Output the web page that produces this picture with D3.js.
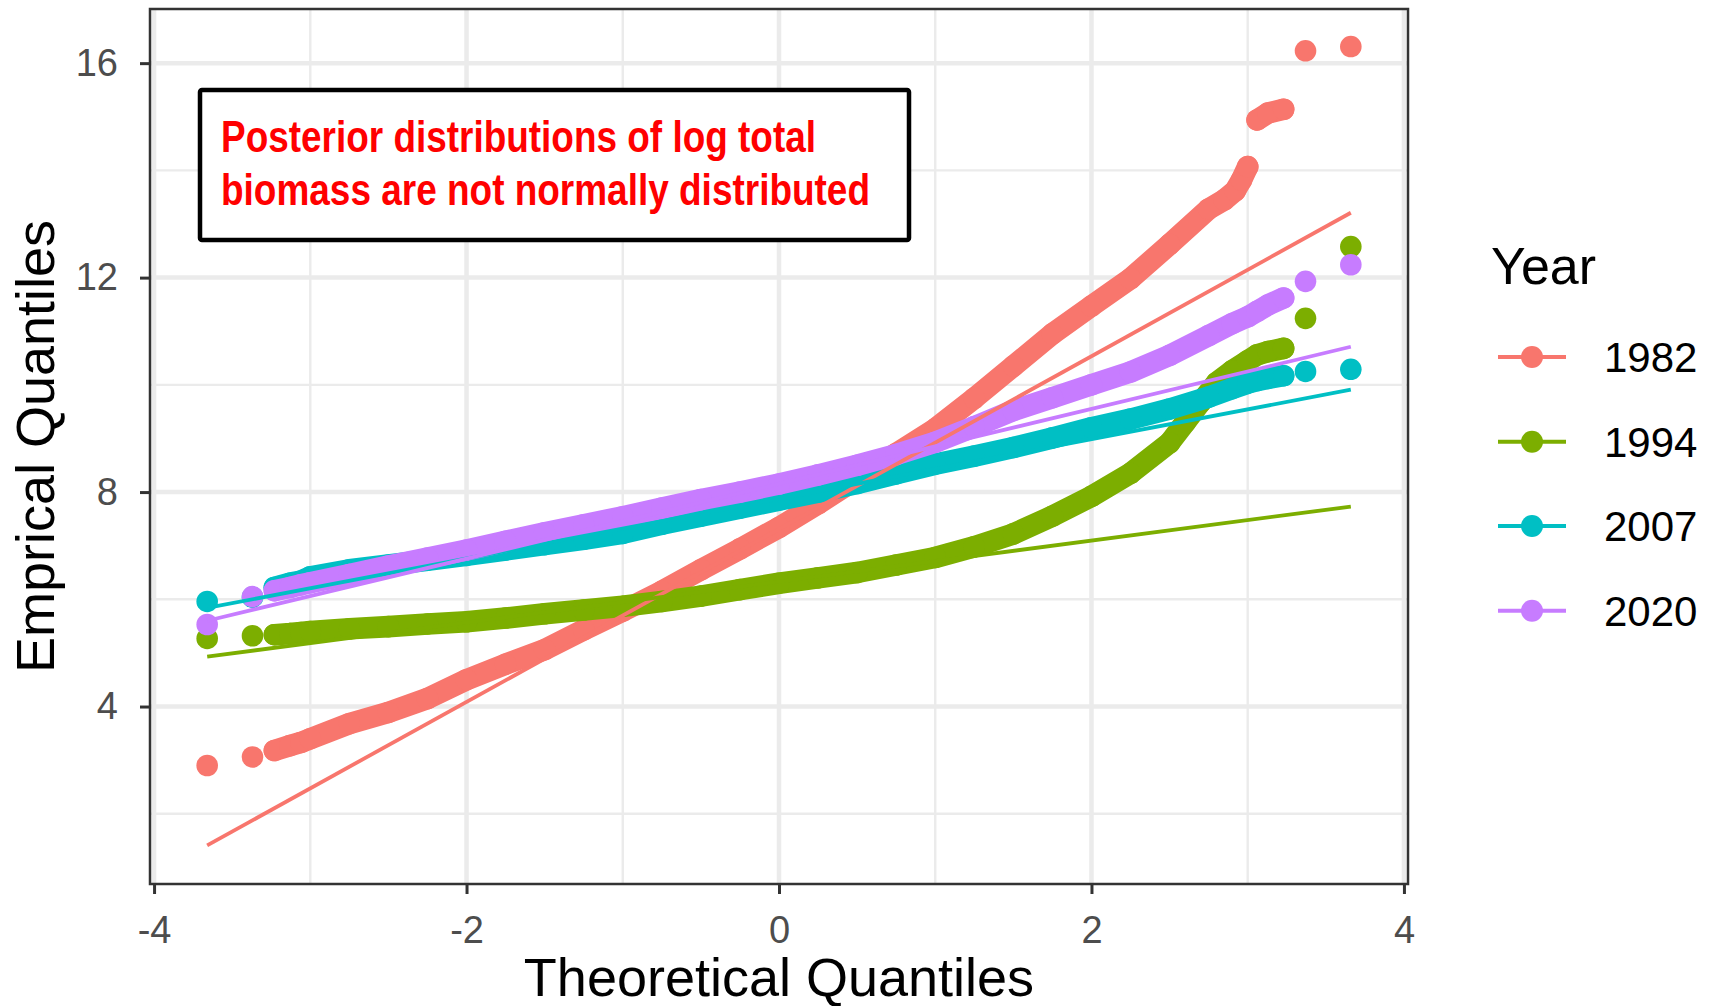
<!DOCTYPE html>
<html>
<head>
<meta charset="utf-8">
<script src="https://cdn.jsdelivr.net/npm/d3@7"></script>
<style>
  body { margin: 0; background: #fff; }
  text { font-family: "Liberation Sans", Arial, sans-serif; }
</style>
</head>
<body>
<script>
const years = ['1982', '1994', '2007', '2020'];
const colors = ['#F8766D', '#7CAE00', '#00BFC4', '#C77CFF'];

const q1982 = [[-3.66,2.90],[-3.37,3.06],[-3.23,3.18],[-3.13,3.27],[-3.06,3.33],[-3.0,3.40],[-2.75,3.68],[-2.5,3.89],[-2.25,4.15],[-2.0,4.50],[-1.75,4.79],[-1.5,5.06],[-1.25,5.43],[-1.0,5.78],[-0.75,6.15],[-0.5,6.55],[-0.25,6.94],[0,7.34],[0.25,7.78],[0.5,8.25],[0.75,8.72],[1.0,9.18],[1.25,9.75],[1.5,10.35],[1.75,10.95],[2.0,11.47],[2.25,11.98],[2.5,12.62],[2.75,13.28],[2.85,13.45],[2.92,13.62],[2.96,13.82],[3.0,14.07],[3.06,14.94],[3.13,15.07],[3.23,15.14],[3.37,16.23],[3.66,16.31]];
const q1994 = [[-3.66,5.27],[-3.37,5.32],[-3.23,5.34],[-3.13,5.36],[-3.06,5.38],[-3.0,5.40],[-2.75,5.45],[-2.5,5.49],[-2.25,5.54],[-2.0,5.58],[-1.75,5.65],[-1.5,5.73],[-1.25,5.80],[-1.0,5.87],[-0.75,5.96],[-0.5,6.06],[-0.25,6.18],[0,6.30],[0.25,6.40],[0.5,6.50],[0.75,6.64],[1.0,6.78],[1.25,6.98],[1.5,7.22],[1.75,7.55],[2.0,7.92],[2.25,8.35],[2.5,8.92],[2.6,9.30],[2.7,9.68],[2.8,10.04],[2.9,10.26],[3.0,10.45],[3.06,10.56],[3.13,10.62],[3.23,10.68],[3.37,11.24],[3.66,12.58]];
const q2007 = [[-3.66,5.96],[-3.37,6.04],[-3.23,6.22],[-3.13,6.30],[-3.06,6.34],[-3.0,6.42],[-2.75,6.55],[-2.5,6.64],[-2.25,6.73],[-2.0,6.82],[-1.75,6.92],[-1.5,7.02],[-1.25,7.12],[-1.0,7.23],[-0.75,7.40],[-0.5,7.55],[-0.25,7.70],[0,7.85],[0.25,8.00],[0.5,8.16],[0.75,8.34],[1.0,8.52],[1.25,8.67],[1.5,8.83],[1.75,9.01],[2.0,9.20],[2.25,9.36],[2.5,9.55],[2.75,9.77],[2.9,9.93],[3.0,10.03],[3.06,10.08],[3.13,10.12],[3.23,10.17],[3.37,10.25],[3.66,10.29]];
const q2020 = [[-3.66,5.53],[-3.37,6.05],[-3.23,6.16],[-3.13,6.22],[-3.06,6.27],[-3.0,6.31],[-2.75,6.46],[-2.5,6.62],[-2.25,6.77],[-2.0,6.92],[-1.75,7.08],[-1.5,7.24],[-1.25,7.39],[-1.0,7.54],[-0.75,7.70],[-0.5,7.86],[-0.25,8.00],[0,8.15],[0.25,8.32],[0.5,8.50],[0.75,8.70],[1.0,8.93],[1.25,9.22],[1.5,9.52],[1.75,9.76],[2.0,10.00],[2.25,10.24],[2.5,10.55],[2.75,10.92],[2.9,11.14],[3.0,11.27],[3.06,11.37],[3.13,11.49],[3.23,11.62],[3.37,11.93],[3.66,12.24]];

// reference lines, value at the lowest and highest theoretical quantile
const lineX = [-3.66, 3.66];
const lineStart = [1.41, 4.93, 5.84, 5.60];
const lineEnd = [13.21, 7.73, 9.91, 10.71];

const xTicks = [-4, -2, 0, 2, 4];
const xMinor = [-3, -1, 1, 3];
const yTicks = [4, 8, 12, 16];
const yMinor = [2, 6, 10, 14];

const annotation = ['Posterior distributions of log total', 'biomass are not normally distributed'];

const series = [q1982, q1994, q2007, q2020];

let width = 1715, height = 1006;
let panel = {left: 150, right: 1408, top: 9, bottom: 884};
let r = 10.8;
let dense = 3.0; // inside this |quantile| the samples sit shoulder to shoulder

let svg = d3.select('body').append('svg')
  .attr('width', width)
  .attr('height', height);

let x = d3.scaleLinear().domain([-4.026, 4.026]).range([panel.left, panel.right]);
let y = d3.scaleLinear().domain([0.69, 17.01]).range([panel.bottom, panel.top]);

svg.append('defs').append('clipPath').attr('id', 'clip')
  .append('rect')
  .attr('x', panel.left).attr('y', panel.top)
  .attr('width', panel.right - panel.left).attr('height', panel.bottom - panel.top);

let plot = svg.append('g').attr('clip-path', 'url(#clip)');

// grid
plot.selectAll('.vminor').data(xMinor).enter().append('line')
  .attr('x1', d => x(d)).attr('x2', d => x(d))
  .attr('y1', panel.top).attr('y2', panel.bottom)
  .attr('stroke', '#ebebeb').attr('stroke-width', 2.4);
plot.selectAll('.hminor').data(yMinor).enter().append('line')
  .attr('y1', d => y(d)).attr('y2', d => y(d))
  .attr('x1', panel.left).attr('x2', panel.right)
  .attr('stroke', '#ebebeb').attr('stroke-width', 2.4);
plot.selectAll('.vmajor').data(xTicks).enter().append('line')
  .attr('x1', d => x(d)).attr('x2', d => x(d))
  .attr('y1', panel.top).attr('y2', panel.bottom)
  .attr('stroke', '#ebebeb').attr('stroke-width', 4.5);
plot.selectAll('.hmajor').data(yTicks).enter().append('line')
  .attr('y1', d => y(d)).attr('y2', d => y(d))
  .attr('x1', panel.left).attr('x2', panel.right)
  .attr('stroke', '#ebebeb').attr('stroke-width', 4.5);

// points: the dense middle of each sample is a solid band of overlapping dots
let band = d3.line();
series.forEach((data, i) => {
  let pts = data.map(d => [x(d[0]), y(d[1])]);
  let runs = [[pts[0]]];
  for (let k = 1; k < pts.length; k++) {
    let a = pts[k - 1], b = pts[k];
    let inside = Math.abs(data[k - 1][0]) <= dense && Math.abs(data[k][0]) <= dense;
    if (inside || Math.hypot(b[0] - a[0], b[1] - a[1]) < 2 * r) runs[runs.length - 1].push(b);
    else runs.push([b]);
  }
  let g = plot.append('g');
  g.selectAll('path').data(runs.filter(run => run.length > 1)).enter().append('path')
    .attr('d', band)
    .attr('fill', 'none')
    .attr('stroke', colors[i])
    .attr('stroke-width', 2 * r)
    .attr('stroke-linecap', 'round')
    .attr('stroke-linejoin', 'round');
  g.selectAll('circle').data(pts).enter().append('circle')
    .attr('cx', d => d[0]).attr('cy', d => d[1])
    .attr('r', r)
    .attr('fill', colors[i]);
});

// qq reference lines
let fit = d3.line().x(d => x(d[0])).y(d => y(d[1]));
years.forEach((yr, i) => {
  plot.append('path')
    .attr('d', fit([[lineX[0], lineStart[i]], [lineX[1], lineEnd[i]]]))
    .attr('stroke', colors[i])
    .attr('stroke-width', 3.8)
    .attr('fill', 'none');
});

// annotation box
let note = svg.append('g');
note.append('rect')
  .attr('x', 200).attr('y', 90)
  .attr('width', 709).attr('height', 150)
  .attr('rx', 2)
  .attr('fill', '#fff')
  .attr('stroke', '#000')
  .attr('stroke-width', 4.5);
note.selectAll('text').data(annotation).enter().append('text')
  .attr('x', 221)
  .attr('y', (d, i) => 152 + i * 53)
  .attr('textLength', (d, i) => [595, 649][i])
  .attr('lengthAdjust', 'spacingAndGlyphs')
  .style('font-family', '"Liberation Sans Narrow", "Liberation Sans", Arial, sans-serif')
  .style('font-weight', 'bold')
  .style('font-size', '44px')
  .attr('fill', '#ff0000')
  .text(d => d);

// panel border
svg.append('rect')
  .attr('x', panel.left).attr('y', panel.top)
  .attr('width', panel.right - panel.left).attr('height', panel.bottom - panel.top)
  .attr('fill', 'none')
  .attr('stroke', '#333333')
  .attr('stroke-width', 2.5);

// axes
let yAxis = svg.append('g')
  .attr('transform', 'translate(' + panel.left + ',0)')
  .call(d3.axisLeft(y).tickValues(yTicks).tickSize(10).tickPadding(22).tickFormat(d => String(d)));
let xAxis = svg.append('g')
  .attr('transform', 'translate(0,' + panel.bottom + ')')
  .call(d3.axisBottom(x).tickValues(xTicks).tickSize(10).tickPadding(22).tickFormat(d => String(d)));

[xAxis, yAxis].forEach(ax => {
  ax.select('.domain').remove();
  ax.selectAll('line').attr('stroke', '#333333').attr('stroke-width', 3);
  ax.selectAll('text')
    .attr('fill', '#4d4d4d')
    .style('font-size', '38px')
    .style('font-family', '"Liberation Sans", Arial, sans-serif');
});

svg.append('text')
  .attr('x', (panel.left + panel.right) / 2)
  .attr('y', 996)
  .attr('text-anchor', 'middle')
  .style('font-size', '54px')
  .text('Theoretical Quantiles');

svg.append('text')
  .attr('transform', 'translate(54,' + (panel.top + panel.bottom) / 2 + ') rotate(-90)')
  .attr('text-anchor', 'middle')
  .style('font-size', '54px')
  .text('Emprical Quantiles');

// legend
let legend = svg.append('g');
legend.append('text')
  .attr('x', 1491).attr('y', 284)
  .style('font-size', '52px')
  .text('Year');

let keyY = [357, 441.7, 526, 610.7];
years.forEach((yr, i) => {
  let row = legend.append('g').attr('transform', 'translate(0,' + keyY[i] + ')');
  row.append('line')
    .attr('x1', 1498).attr('x2', 1566)
    .attr('stroke', colors[i]).attr('stroke-width', 4);
  row.append('circle')
    .attr('cx', 1532).attr('r', 11)
    .attr('fill', colors[i]);
  row.append('text')
    .attr('x', 1604).attr('y', 15)
    .style('font-size', '42px')
    .text(yr);
});
</script>
</body>
</html>
